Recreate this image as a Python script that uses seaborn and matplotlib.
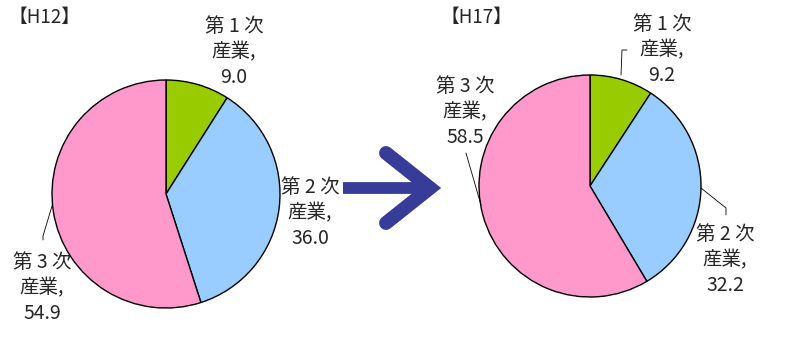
import matplotlib
matplotlib.use("Agg")
import matplotlib.pyplot as plt
import seaborn as sns

sns.set_theme(style="white")
plt.rcParams['font.family'] = ['Noto Sans CJK JP', 'DejaVu Sans']

categories = ["第 1 次\n産業,", "第 2 次\n産業,", "第 3 次\n産業,"]
years = ["【H12】", "【H17】"]
values_h12 = [9.0, 36.0, 54.9]
values_h17 = [9.2, 32.2, 58.5]
colors = ["#99cc00", "#99ccff", "#ff99cc"]

W, H = 788, 338
fig = plt.figure(figsize=(W / 100, H / 100), dpi=100)
ax = fig.add_axes([0, 0, 1, 1])

def Y(py):
    return H - py

pies = [
    (values_h12, (166, Y(194)), 114),
    (values_h17, (590, Y(186)), 111),
]
for vals, c, r in pies:
    ax.pie(vals, colors=colors, startangle=90, counterclock=False,
           center=c, radius=r, frame=False,
           wedgeprops=dict(edgecolor="black", linewidth=1.0))

ax.set_xlim(0, W)
ax.set_ylim(0, H)
ax.set_aspect("equal")
ax.axis("off")

fs = 14
# titles
ax.text(9, Y(17), years[0], fontsize=13.5, ha="left", va="center")
ax.text(441, Y(17), years[1], fontsize=13.5, ha="left", va="center")

def label(x, ymid, cat, val):
    txt = cat + "\n" + f"{val:.1f}"
    ax.text(x, Y(ymid), txt, fontsize=fs, ha="center", va="center", linespacing=1.3)

# H12 labels
label(234, 52, categories[0], values_h12[0])
label(310, 213, categories[1], values_h12[1])
label(42, 288, categories[2], values_h12[2])
ax.plot([52, 43, 43], [Y(206), Y(236), Y(240)], color="black", lw=0.6)

# H17 labels
label(662, 50, categories[0], values_h17[0])
label(725, 260, categories[1], values_h17[1])
label(465, 112, categories[2], values_h17[2])
ax.plot([621, 622, 627], [Y(75), Y(50), Y(50)], color="black", lw=0.6)
ax.plot([701, 726, 726], [Y(188), Y(208), Y(215)], color="black", lw=0.6)
ax.plot([466, 481], [Y(153), Y(205)], color="black", lw=0.6)

# arrow
acol = "#383c99"
ax.plot([343, 424], [Y(188), Y(188)], color=acol, lw=8.5, solid_capstyle="butt")
ax.plot([386, 430, 386], [Y(153), Y(188), Y(223)], color=acol, lw=10,
        solid_capstyle="round", solid_joinstyle="miter")

fig.savefig("out.png", dpi=100)
